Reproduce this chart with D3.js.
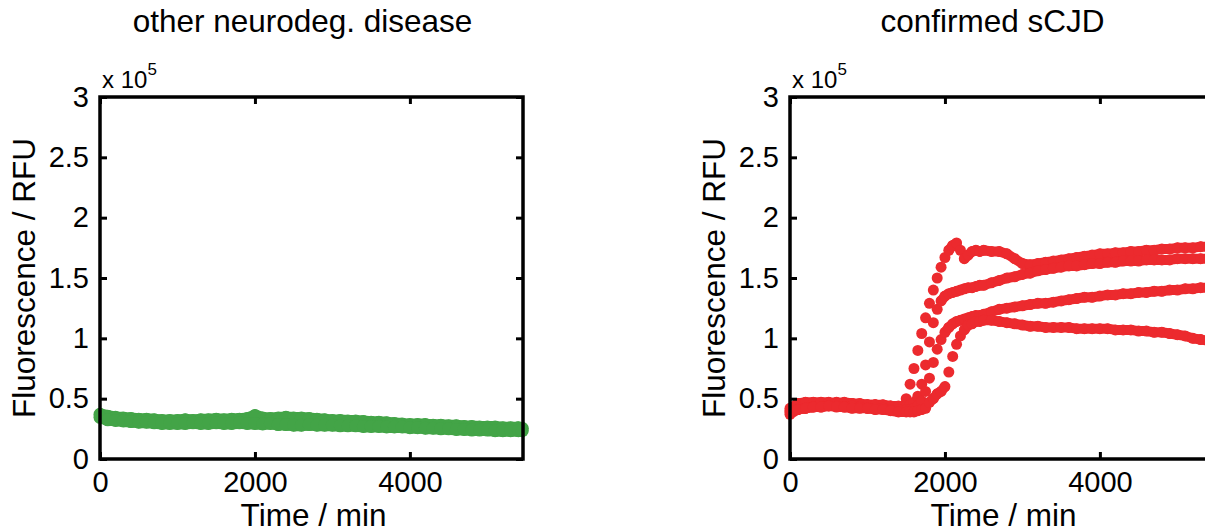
<!DOCTYPE html>
<html>
<head>
<meta charset="utf-8">
<title>RT-QuIC traces</title>
<script src="https://cdn.jsdelivr.net/npm/d3@7"></script>
<style>
body{margin:0;background:#fff;overflow:hidden;}
svg text{font-family:"Liberation Sans", Arial, Helvetica, sans-serif;fill:#000;}
.tick line{stroke:#000;stroke-width:3;}
.domain{display:none;}
.frame{fill:none;stroke:#000;stroke-width:3.5;}
</style>
</head>
<body>
<script>
//self-executing function to keep things local
(function(){

//axis ticks, fluorescence in units of 1e5 RFU
var xTicks = [0, 2000, 4000];
var yTicks = [0, 0.5, 1, 1.5, 2, 2.5, 3];
var yTickLabels = ["0", "0.5", "1", "1.5", "2", "2.5", "3"];
var panelTitles = ["other neurodeg. disease", "confirmed sCJD"];

//time points of the green traces (min)
var greenTime = [0,100,200,300,400,500,600,700,800,900,1000,1100,1200,1300,1400,1500,1600,1700,1800,1900,
	2000,2100,2200,2300,2400,2500,2600,2700,2800,2900,3000,3100,3200,3300,3400,3500,3600,3700,3800,3900,
	4000,4100,4200,4300,4400,4500,4600,4700,4800,4900,5000,5100,5200,5300,5400,5450];

//other neurodegenerative disease, two replicate wells
var greenRep1 = [0.37,0.355,0.345,0.34,0.335,0.33,0.33,0.325,0.32,0.32,0.32,0.325,0.32,0.325,0.325,0.33,0.325,0.33,0.33,0.335,
	0.36,0.34,0.335,0.34,0.345,0.34,0.34,0.335,0.33,0.325,0.32,0.32,0.315,0.315,0.31,0.305,0.305,0.30,0.295,0.29,
	0.285,0.285,0.285,0.28,0.28,0.275,0.275,0.27,0.27,0.265,0.265,0.265,0.26,0.26,0.26,0.255];
var greenRep2 = [0.345,0.325,0.32,0.315,0.31,0.305,0.305,0.30,0.295,0.295,0.295,0.295,0.30,0.295,0.295,0.30,0.295,0.295,0.30,0.295,
	0.295,0.29,0.295,0.285,0.285,0.28,0.28,0.285,0.28,0.28,0.28,0.275,0.275,0.275,0.27,0.27,0.27,0.265,0.265,0.265,
	0.26,0.26,0.255,0.255,0.25,0.25,0.245,0.245,0.24,0.24,0.24,0.235,0.235,0.235,0.235,0.235];

//time points of the red traces (min), denser around the rise
var redTime = [0,100,200,300,400,500,600,700,800,900,1000,1100,1200,1300,1400,1500,
	1550,1600,1650,1700,1750,1800,1850,1900,1950,2000,2050,2100,2150,2200,2250,2300,2350,2400,2450,2500,
	2600,2700,2800,2900,3000,3100,3200,3300,3400,3500,3600,3700,3800,3900,4000,4100,4200,4300,4400,4500,
	4600,4700,4800,4900,5000,5100,5200,5300,5400,5450];

//confirmed sCJD, four wells
var redA = [0.40,0.44,0.45,0.45,0.46,0.46,0.47,0.46,0.46,0.45,0.45,0.45,0.44,0.44,0.43,0.50,
	0.62,0.75,0.9,1.04,1.17,1.29,1.40,1.50,1.59,1.67,1.73,1.77,1.79,1.73,1.66,1.69,1.72,1.73,1.72,1.73,
	1.72,1.72,1.70,1.66,1.62,1.61,1.62,1.63,1.64,1.65,1.66,1.67,1.68,1.69,1.70,1.70,1.71,1.71,1.72,1.72,
	1.73,1.73,1.74,1.74,1.75,1.75,1.75,1.76,1.76,1.76];
var redB = [0.42,0.46,0.47,0.47,0.47,0.47,0.46,0.47,0.46,0.46,0.45,0.45,0.45,0.44,0.44,0.44,
	0.45,0.47,0.52,0.62,0.78,0.97,1.13,1.24,1.31,1.35,1.37,1.38,1.39,1.40,1.41,1.42,1.42,1.43,1.44,1.44,
	1.46,1.48,1.50,1.51,1.53,1.54,1.56,1.57,1.58,1.59,1.60,1.60,1.61,1.62,1.62,1.63,1.63,1.64,1.64,1.64,
	1.65,1.65,1.65,1.65,1.66,1.66,1.66,1.66,1.66,1.66];
var redC = [0.37,0.41,0.42,0.43,0.43,0.44,0.44,0.43,0.44,0.43,0.42,0.42,0.42,0.41,0.41,0.41,
	0.41,0.42,0.44,0.48,0.56,0.67,0.80,0.91,0.99,1.05,1.09,1.12,1.14,1.15,1.16,1.17,1.18,1.19,1.19,1.20,
	1.22,1.24,1.25,1.26,1.27,1.28,1.29,1.29,1.30,1.31,1.32,1.33,1.34,1.34,1.35,1.36,1.36,1.37,1.37,1.38,
	1.38,1.39,1.39,1.40,1.40,1.41,1.41,1.42,1.42,1.42];
var redD = [0.39,0.41,0.42,0.43,0.43,0.44,0.43,0.43,0.42,0.42,0.42,0.41,0.41,0.40,0.39,0.39,
	0.39,0.39,0.40,0.41,0.42,0.47,0.50,0.54,0.56,0.60,0.72,0.85,0.95,1.02,1.07,1.11,1.12,1.14,1.14,1.15,
	1.15,1.14,1.13,1.12,1.11,1.10,1.10,1.09,1.09,1.09,1.09,1.08,1.08,1.08,1.08,1.08,1.07,1.07,1.07,1.06,
	1.06,1.05,1.05,1.04,1.03,1.02,1.00,0.99,0.98,0.97];

//page size
var width = 1205,
	height = 532;

var svg = d3.select("body")
	.append("svg")
	.attr("width", width)
	.attr("height", height);

//left panel - green
drawPanel(100, panelTitles[0], greenTime, [greenRep1, greenRep2], "#43a447", 6.5);
//right panel - red (runs off the right edge like the original)
drawPanel(790, panelTitles[1], redTime, [redA, redB, redC, redD], "#ec2a2e", 5.5);


//draws one axes box with its markers
function drawPanel(left, title, time, series, color, radius){
	var plotW = 423,
		top = 97,
		bottom = 459;

	var x = d3.scaleLinear()
		.domain([0, 5460])
		.range([left, left + plotW]);

	var y = d3.scaleLinear()
		.domain([0, 3])
		.range([bottom, top]);

	var g = svg.append("g");

	//markers, one group per well
	series.forEach(function(vals){
		var well = g.append("g");

		//neighbouring markers that sit close together merge into a solid band
		var pairs = [];
		for (var i=1; i<vals.length; i++){
			if (Math.abs(y(vals[i]) - y(vals[i-1])) < 6){
				pairs.push([i-1, i]);
			};
		};
		well.selectAll("line")
			.data(pairs)
			.enter()
			.append("line")
			.attr("x1", function(d){ return x(time[d[0]]); })
			.attr("y1", function(d){ return y(vals[d[0]]); })
			.attr("x2", function(d){ return x(time[d[1]]); })
			.attr("y2", function(d){ return y(vals[d[1]]); })
			.style("stroke", color)
			.style("stroke-width", radius * 2 - 1)
			.style("stroke-linecap", "round");

		well.selectAll("circle")
			.data(vals)
			.enter()
			.append("circle")
			.attr("cx", function(d, i){ return x(time[i]); })
			.attr("cy", function(d){ return y(d); })
			.attr("r", radius)
			.style("fill", color);
	});

	//ticks on all four sides, pointing inwards
	g.append("g")
		.attr("transform", "translate(0," + bottom + ")")
		.call(d3.axisBottom(x).tickValues(xTicks).tickSize(-7).tickPadding(12.5).tickFormat(d3.format("d")))
		.selectAll("text")
		.style("font-size", "29px");

	g.append("g")
		.attr("transform", "translate(0," + top + ")")
		.call(d3.axisTop(x).tickValues(xTicks).tickSize(-7).tickFormat(""));

	g.append("g")
		.attr("transform", "translate(" + left + ",0)")
		.call(d3.axisLeft(y).tickValues(yTicks).tickSize(-7).tickPadding(11)
			.tickFormat(function(d, i){ return yTickLabels[i]; }))
		.selectAll("text")
		.style("font-size", "29px");

	g.append("g")
		.attr("transform", "translate(" + (left + plotW) + ",0)")
		.call(d3.axisRight(y).tickValues(yTicks).tickSize(-7).tickFormat(""));

	//axes frame
	g.append("rect")
		.attr("class", "frame")
		.attr("x", left)
		.attr("y", top)
		.attr("width", plotW)
		.attr("height", bottom - top);

	//scale factor above the y axis
	var expo = g.append("text")
		.attr("x", left + 2)
		.attr("y", 88)
		.style("font-size", "24px")
		.text("x 10");
	expo.append("tspan")
		.attr("dy", -13)
		.style("font-size", "17px")
		.text("5");

	//title
	g.append("text")
		.attr("x", left + plotW / 2 - 9)
		.attr("y", 32)
		.attr("text-anchor", "middle")
		.style("font-size", "31.5px")
		.text(title);

	//x axis label
	g.append("text")
		.attr("x", left + plotW / 2 + 2)
		.attr("y", 526)
		.attr("text-anchor", "middle")
		.style("font-size", "31.5px")
		.text("Time / min");

	//y axis label
	g.append("text")
		.attr("transform", "translate(" + (left - 65) + "," + ((top + bottom) / 2) + ") rotate(-90)")
		.attr("text-anchor", "middle")
		.style("font-size", "31.5px")
		.text("Fluorescence / RFU");
};

})();
</script>
</body>
</html>
